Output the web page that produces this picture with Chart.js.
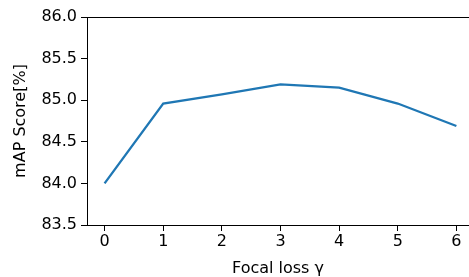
<!DOCTYPE html>
<html><head><meta charset="utf-8">
<script src="https://cdn.jsdelivr.net/npm/chart.js@4"></script>
<style>html,body{margin:0;padding:0;overflow:hidden;background:#fff;width:469px;height:277px}</style>
</head><body>
<canvas id="c" width="469" height="277"></canvas>
<script>
const gammaValues = [0, 1, 2, 3, 4, 5, 6];
const mapScores = [84.0, 84.96, 85.07, 85.19, 85.15, 84.96, 84.69];
const yTicks = [83.5, 84.0, 84.5, 85.0, 85.5, 86.0];
const xTicks = [0, 1, 2, 3, 4, 5, 6];

const FONT = 'DejaVu Sans';
const FS = 16;
const topSpine = {
  id: 'topSpine',
  afterDraw(chart) {
    const {ctx, chartArea: a} = chart;
    ctx.save();
    ctx.strokeStyle = '#000';
    ctx.lineWidth = 1;
    ctx.beginPath();
    ctx.moveTo(a.left, Math.round(a.top) + 0.5);
    ctx.lineTo(a.right + 10, Math.round(a.top) + 0.5);
    ctx.stroke();
    ctx.restore();
  }
};

new Chart(document.getElementById('c'), {
  type: 'line',
  data: {
    datasets: [{
      data: gammaValues.map((g, i) => ({x: g, y: mapScores[i]})),
      borderColor: '#1f77b4',
      borderWidth: 2.3,
      pointRadius: 0,
      tension: 0,
      fill: false
    }]
  },
  options: {
    responsive: false,
    animation: false,
    events: [],
    layout: {padding: {top: 17, right: 0, left: 0, bottom: 0}},
    plugins: {legend: {display: false}, tooltip: {enabled: false}},
    scales: {
      x: {
        type: 'linear',
        min: -0.3, max: 6.215,
        afterBuildTicks(s) { s.ticks = xTicks.map(v => ({value: v})); },
        afterFit(s) { s.height = 52; s.paddingRight = 0; },
        grid: {drawOnChartArea: false, tickLength: 6, color: '#000', tickWidth: 1},
        border: {display: true, color: '#000', width: 1},
        ticks: {color: '#000', font: {family: FONT, size: FS}, padding: 1, maxRotation: 0},
        title: {display: true, text: 'Focal loss γ', color: '#000', font: {family: FONT, size: FS}, padding: {top: 0, bottom: -1}}
      },
      y: {
        min: 83.5, max: 86.0,
        afterBuildTicks(s) { s.ticks = yTicks.map(v => ({value: v})); },
        afterFit(s) { s.width = 87; },
        grid: {drawOnChartArea: false, tickLength: 6, color: '#000', tickWidth: 1},
        border: {display: true, color: '#000', width: 1},
        ticks: {color: '#000', font: {family: FONT, size: FS}, padding: 4, callback: v => v.toFixed(1)},
        title: {display: true, text: 'mAP Score[%]', color: '#000', font: {family: FONT, size: FS}, padding: {top: 11, bottom: 0}}
      }
    }
  },
  plugins: [topSpine]
});
</script>
</body></html>
